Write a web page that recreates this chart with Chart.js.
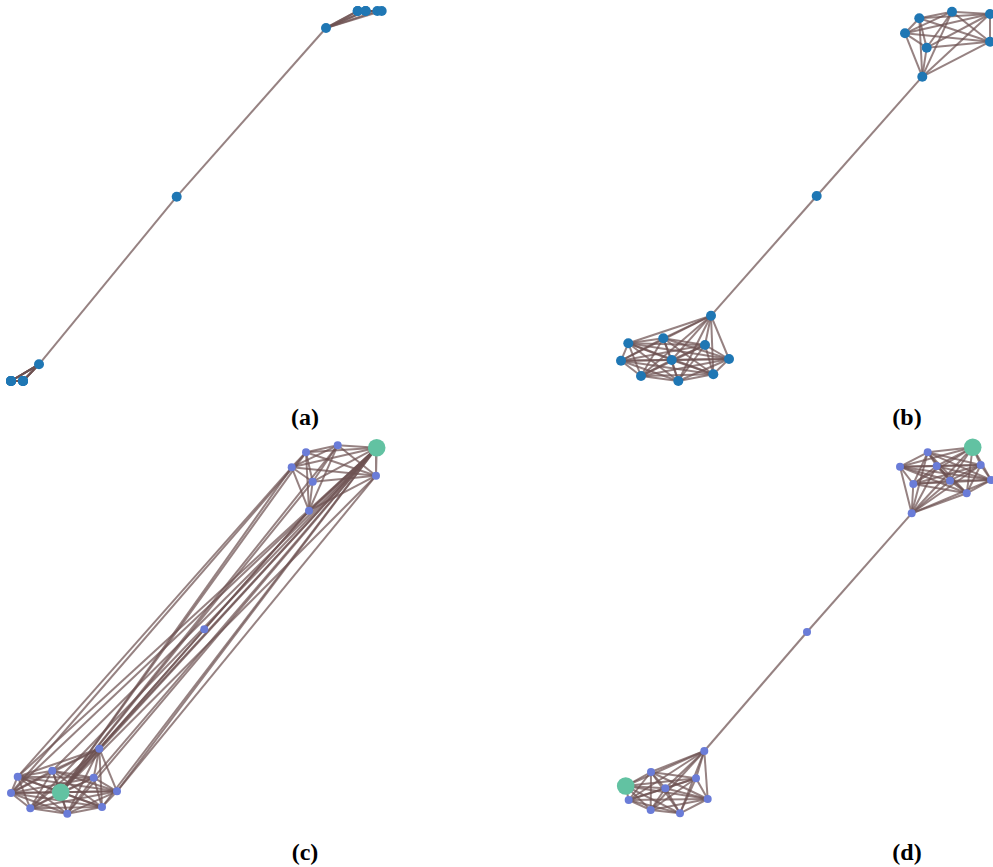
<!DOCTYPE html>
<html>
<head>
<meta charset="utf-8">
<script src="https://cdn.jsdelivr.net/npm/chart.js@4.4.1/dist/chart.umd.min.js"></script>
<style>
  html, body { margin: 0; padding: 0; background: #ffffff; }
  #page { position: relative; width: 993px; height: 867px; overflow: hidden; }
  .panel { position: absolute; width: 393px; height: 400px; }
  .panel canvas { display: block; }
  .cap { position: absolute; width: 80px; text-align: center;
         font-family: "Liberation Serif", "Times New Roman", serif;
         font-weight: bold; font-size: 24px; line-height: 24px; color: #000; }
</style>
</head>
<body>
<div id="page">
  <div class="panel" style="left:0px;top:0px"><canvas id="pa" width="393" height="400"></canvas></div>
  <div class="panel" style="left:600px;top:0px"><canvas id="pb" width="393" height="400"></canvas></div>
  <div class="panel" style="left:0px;top:435px"><canvas id="pc" width="393" height="400"></canvas></div>
  <div class="panel" style="left:600px;top:435px"><canvas id="pd" width="393" height="400"></canvas></div>
  <div class="cap" style="left:265px;top:405px">(a)</div>
  <div class="cap" style="left:867px;top:405px">(b)</div>
  <div class="cap" style="left:265px;top:840px">(c)</div>
  <div class="cap" style="left:867px;top:840px">(d)</div>
</div>
<script>
// Node layouts (layout units, y grows downward). Nodes 0-6: upper community
// (6 = its gateway), 7: bridge node, 8-17: lower community (8 = its gateway).
const posA_x = [357.7, 365.7, 377.3, 357.7, 365.7, 381.7, 326.0, 176.7, 39.0, 11.0, 23.0, 11.0, 23.0, 11.0, 23.0, 11.0, 23.0, 11.0];
const posA_y = [11.0, 11.0, 11.0, 11.0, 11.0, 11.0, 28.0, 196.7, 364.3, 381.0, 381.0, 381.0, 381.0, 381.0, 381.0, 381.0, 381.0, 381.0];

const posB_x = [319.3, 352.0, 390.0, 305.0, 326.7, 390.0, 322.3, 216.7, 111.0, 28.3, 63.3, 105.0, 21.0, 71.7, 129.0, 41.0, 78.3, 113.3];
const posB_y = [18.3, 11.7, 14.0, 33.3, 47.7, 41.7, 76.7, 196.0, 315.7, 343.3, 338.3, 345.0, 360.7, 360.0, 359.0, 376.0, 381.0, 374.3];

const posC_x = [306.0, 337.7, 376.7, 291.7, 312.7, 376.0, 309.0, 204.3, 99.3, 17.7, 52.3, 93.7, 11.0, 60.7, 117.0, 30.3, 67.3, 102.0];
const posC_y = [17.3, 10.3, 12.7, 32.3, 46.7, 40.7, 75.7, 194.3, 313.7, 341.7, 335.7, 342.7, 358.0, 357.3, 356.3, 373.3, 378.7, 372.0];

// Panel (d): nodes 0-9 upper community (9 = gateway), 10 bridge, 11-19 lower (11 = gateway).
const posD_x = [327.7, 372.7, 300.0, 336.7, 380.7, 313.3, 350.0, 391.0, 366.7, 311.7, 207.0, 104.3, 51.0, 25.7, 96.0, 65.3, 28.7, 107.7, 50.7, 80.0];
const posD_y = [17.3, 12.3, 31.7, 31.0, 30.0, 49.0, 45.7, 45.0, 58.3, 78.3, 197.0, 316.0, 337.0, 351.0, 343.3, 353.3, 365.0, 364.0, 375.0, 378.3];

// Highlighted (seed) nodes
const seedsC = [2, 13];
const seedsD = [1, 13];

// Edge lists
const edgesUpper7 = "0-1 0-2 0-3 0-4 0-5 0-6 1-2 1-3 1-4 1-5 1-6 2-3 2-4 2-5 2-6 3-4 3-5 3-6 4-5 4-6 5-6";
const edgesLower10 = "8-9 8-10 8-11 8-12 8-13 8-14 8-15 8-16 8-17 9-10 9-11 9-12 9-13 9-14 9-15 9-16 9-17 " +
  "10-11 10-12 10-13 10-14 10-15 10-16 10-17 11-12 11-13 11-14 11-15 11-16 11-17 12-13 12-14 12-15 12-16 12-17 " +
  "13-14 13-15 13-16 13-17 14-15 14-16 14-17 15-16 15-17 16-17";
const edgesBridge = "6-7 7-8";
const edgesCross = "2-8 2-9 2-10 2-11 2-12 2-13 2-14 2-15 2-16 2-17 13-0 13-1 13-3 13-4 13-5 13-6 5-14 3-9 0-12";

const edgesUpperD = "0-1 0-2 0-3 0-4 0-5 0-6 0-7 0-8 0-9 1-2 1-3 1-4 1-5 1-6 1-7 1-8 1-9 2-3 2-4 2-5 2-6 2-7 2-8 2-9 " +
  "3-4 3-5 3-6 3-7 3-8 3-9 4-5 4-6 4-7 4-8 4-9 5-6 5-7 5-8 5-9 6-7 6-8 6-9 7-8 7-9 8-9";
const edgesLowerD = "11-12 11-13 11-14 11-15 11-16 11-17 11-18 11-19 12-13 12-14 12-15 12-16 12-17 12-18 12-19 " +
  "13-14 13-15 13-16 13-17 13-18 13-19 14-15 14-16 14-17 14-18 14-19 15-16 15-17 15-18 15-19 " +
  "16-17 16-18 16-19 17-18 17-19 18-19";
const edgesBridgeD = "9-10 10-11";

const EDGE_COLOR = 'rgba(110, 82, 82, 0.72)';
const EDGE_WIDTH = 2.0;

function parseEdges(str) {
  return str.trim().split(/\s+/).map(s => s.split('-').map(Number));
}

function edgeDatasets(xs, ys, edgeStrings) {
  const out = [];
  edgeStrings.forEach(str => {
    parseEdges(str).forEach(([a, b]) => {
      out.push({
        data: [{x: xs[a], y: ys[a]}, {x: xs[b], y: ys[b]}],
        showLine: true,
        borderColor: EDGE_COLOR,
        borderWidth: EDGE_WIDTH,
        pointRadius: 0,
        fill: false,
        clip: false,
        order: 3
      });
    });
  });
  return out;
}

function nodeDataset(xs, ys, idx, color, radius, order) {
  return {
    data: idx.map(i => ({x: xs[i], y: ys[i]})),
    showLine: false,
    pointRadius: radius,
    pointBackgroundColor: color,
    pointBorderWidth: 0,
    clip: false,
    order: order
  };
}

function drawPanel(id, xs, ys, edgeStrings, seeds, nodeColor, nodeRadius) {
  const all = xs.map((_, i) => i);
  const plain = all.filter(i => !seeds.includes(i));
  const datasets = edgeDatasets(xs, ys, edgeStrings);
  datasets.push(nodeDataset(xs, ys, plain, nodeColor, nodeRadius, 1));
  if (seeds.length) datasets.push(nodeDataset(xs, ys, seeds, '#62C2A2', 8.8, 0));
  new Chart(document.getElementById(id), {
    type: 'scatter',
    data: { datasets },
    options: {
      responsive: false,
      maintainAspectRatio: false,
      animation: false,
      events: [],
      layout: { padding: 0, autoPadding: false },
      plugins: { legend: { display: false }, tooltip: { enabled: false } },
      scales: {
        x: { type: 'linear', min: 0, max: 393, display: false },
        y: { type: 'linear', min: 0, max: 400, reverse: true, display: false }
      }
    }
  });
}

drawPanel('pa', posA_x, posA_y, [edgesUpper7, edgesLower10, edgesBridge], [], '#1F77B4', 5);
drawPanel('pb', posB_x, posB_y, [edgesUpper7, edgesLower10, edgesBridge], [], '#1F77B4', 5);
drawPanel('pc', posC_x, posC_y, [edgesUpper7, edgesLower10, edgesBridge, edgesCross], seedsC, '#6A7CD8', 4);
drawPanel('pd', posD_x, posD_y, [edgesUpperD, edgesLowerD, edgesBridgeD], seedsD, '#6A7CD8', 4);
</script>
</body>
</html>
